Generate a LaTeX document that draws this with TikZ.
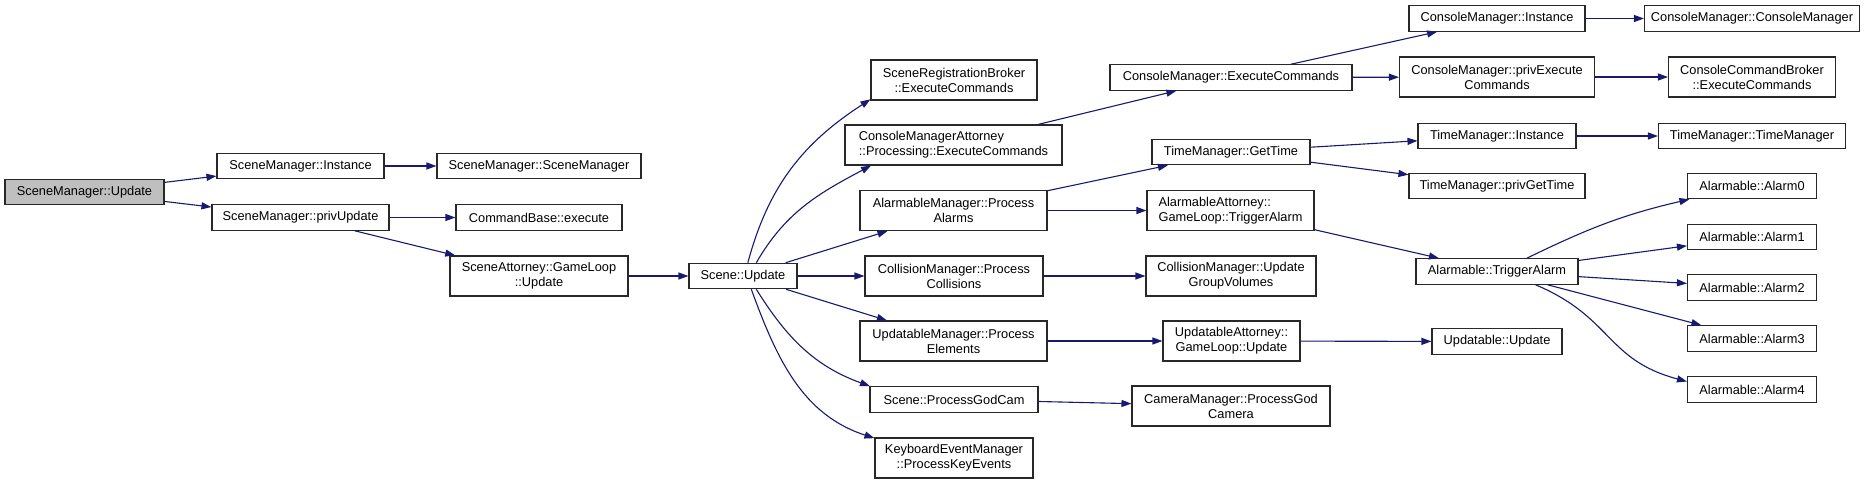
\documentclass[tikz,border=0pt]{standalone}
\usepackage{fontspec}
\setmainfont{Liberation Sans}
\usetikzlibrary{arrows.meta}
\definecolor{edgeblue}{RGB}{25,25,112}
\definecolor{boxline}{RGB}{40,40,40}
\definecolor{rootgray}{RGB}{191,191,191}

\begin{document}
\begin{tikzpicture}[
    x=1pt, y=1pt,
    fn/.style={rectangle, draw=boxline, line width=1.1pt, fill=white, inner sep=0pt, minimum height=25.5pt, align=center, font=\fontsize{12.8}{15}\selectfont},
    fn2/.style={fn, minimum height=40pt},
    call/.style={edgeblue, line width=1.1pt, -{Triangle[length=10pt,width=7pt]}},
]
    \useasboundingbox (0,0) rectangle (1872,-485);

    % caller and first ranks
    \node[fn, fill=rootgray, minimum width=159pt] (f0) at (84.5,-192) {SceneManager::Update};
    \node[fn, minimum width=167pt] (f1) at (300.5,-166) {SceneManager::Instance};
    \node[fn, minimum width=177pt] (f3) at (300.5,-217.5) {SceneManager::privUpdate};
    \node[fn, minimum width=204pt] (f2) at (539,-166) {SceneManager::SceneManager};
    \node[fn, minimum width=166pt] (f4) at (539,-217.5) {CommandBase::execute};
    \node[fn2, minimum width=178pt] (f5) at (539,-276) {SceneAttorney::GameLoop\\::Update};
    \node[fn, minimum width=108pt] (f6) at (743,-276) {Scene::Update};

    % called by Scene::Update
    \node[fn2, minimum width=166pt] (f7) at (954,-80) {SceneRegistrationBroker\\::ExecuteCommands};
    \node[fn2, minimum width=217pt, align=left] (f8) at (953.5,-145) {ConsoleManagerAttorney\\::Processing::ExecuteCommands};
    \node[fn2, minimum width=187pt] (f9) at (953.5,-210.5) {AlarmableManager::Process\\Alarms};
    \node[fn2, minimum width=178pt] (f10) at (954,-276) {CollisionManager::Process\\Collisions};
    \node[fn2, minimum width=187pt] (f11) at (953.5,-341) {UpdatableManager::Process\\Elements};
    \node[fn, minimum width=168pt] (f12) at (954,-399.5) {Scene::ProcessGodCam};
    \node[fn2, minimum width=158pt] (f13) at (954,-458) {KeyboardEventManager\\::ProcessKeyEvents};

    \node[fn, minimum width=242pt] (f14) at (1231,-77.5) {ConsoleManager::ExecuteCommands};
    \node[fn, minimum width=158pt] (f15) at (1231,-152) {TimeManager::GetTime};
    \node[fn2, minimum width=167pt, align=left] (f16) at (1230.5,-210.5) {AlarmableAttorney::\\GameLoop::TriggerAlarm};
    \node[fn2, minimum width=170pt] (f17) at (1231,-276) {CollisionManager::Update\\GroupVolumes};
    \node[fn2, minimum width=137pt] (f18) at (1231.5,-341) {UpdatableAttorney::\\GameLoop::Update};
    \node[fn2, minimum width=198pt] (f19) at (1231,-406) {CameraManager::ProcessGod\\Camera};

    \node[fn, minimum width=176pt] (f20) at (1497,-18.5) {ConsoleManager::Instance};
    \node[fn2, minimum width=195pt] (f21) at (1497,-77) {ConsoleManager::privExecute\\Commands};
    \node[fn, minimum width=158pt] (f22) at (1497,-136) {TimeManager::Instance};
    \node[fn, minimum width=176pt] (f23) at (1497,-186) {TimeManager::privGetTime};
    \node[fn, minimum width=162pt] (f24) at (1497,-271.5) {Alarmable::TriggerAlarm};
    \node[fn, minimum width=130pt] (f25) at (1497,-341.5) {Updatable::Update};

    \node[fn, minimum width=215pt] (f26) at (1752,-18.5) {ConsoleManager::ConsoleManager};
    \node[fn2, minimum width=167pt] (f27) at (1752,-77) {ConsoleCommandBroker\\::ExecuteCommands};
    \node[fn, minimum width=187pt] (f28) at (1752,-136) {TimeManager::TimeManager};
    \node[fn, minimum width=129pt] (f29) at (1752,-186) {Alarmable::Alarm0};
    \node[fn, minimum width=129pt] (f30) at (1752,-237) {Alarmable::Alarm1};
    \node[fn, minimum width=129pt] (f31) at (1752,-287.5) {Alarmable::Alarm2};
    \node[fn, minimum width=129pt] (f32) at (1752,-338.5) {Alarmable::Alarm3};
    \node[fn, minimum width=129pt] (f33) at (1752,-389.5) {Alarmable::Alarm4};

    % calls
    \draw[call] (f0) -- (f1);
    \draw[call] (f0) -- (f3);
    \draw[call] (f1) -- (f2);
    \draw[call] (f3) -- (f4);
    \draw[call] (f3) -- (f5);
    \draw[call] (f5) -- (f6);
    \draw[call] (f6.70) to[out=75, in=213] (f7.193);
    \draw[call] (f6.45) to[out=60, in=208] (f8.194);
    \draw[call] (f6) -- (f9);
    \draw[call] (f6) -- (f10);
    \draw[call] (f6) -- (f11);
    \draw[call] (f6.315) to[out=-58, in=160] (f12.171);
    \draw[call] (f6.302) to[out=-70, in=162] (f13.166);
    \draw[call] (f8) -- (f14);
    \draw[call] (f9) -- (f15);
    \draw[call] (f9) -- (f16);
    \draw[call] (f10) -- (f17);
    \draw[call] (f11) -- (f18);
    \draw[call] (f12) -- (f19);
    \draw[call] (f14) -- (f20);
    \draw[call] (f14) -- (f21);
    \draw[call] (f15) -- (f22);
    \draw[call] (f15) -- (f23);
    \draw[call] (f16) -- (f24);
    \draw[call] (f18) -- (f25);
    \draw[call] (f20) -- (f26);
    \draw[call] (f21) -- (f27);
    \draw[call] (f22) -- (f28);
    \draw[call] (f24.24) to[out=26, in=193] (f29.192);
    \draw[call] (f24) -- (f30);
    \draw[call] (f24) -- (f31);
    \draw[call] (f24) -- (f32);
    \draw[call] (f24.341) to[out=-23, in=165, looseness=1.2] (f33.173);
\end{tikzpicture}
\end{document}
